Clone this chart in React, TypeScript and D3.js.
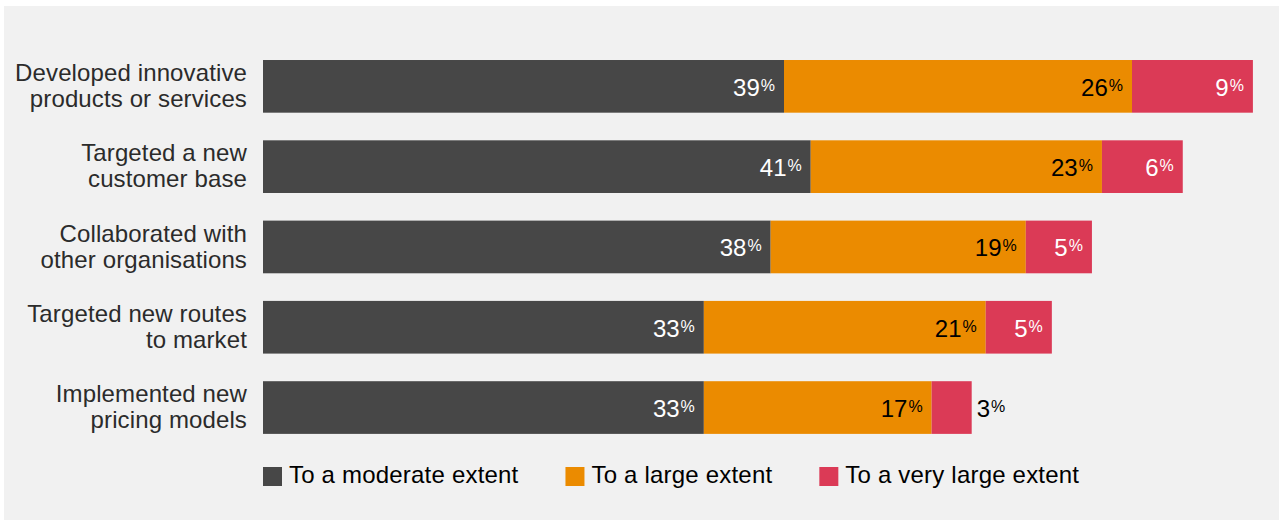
import React, { useEffect, useRef } from "react";
import * as d3 from "d3";

const categories: string[][] = [
  ["Developed innovative", "products or services"],
  ["Targeted a new", "customer base"],
  ["Collaborated with", "other organisations"],
  ["Targeted new routes", "to market"],
  ["Implemented new", "pricing models"],
];
const seriesNames = ["To a moderate extent", "To a large extent", "To a very large extent"];
const moderate = [39, 41, 38, 33, 33];
const large = [26.05, 21.8, 19.1, 21.1, 17.05];
const veryLarge = [9.05, 6.05, 4.95, 4.95, 3];
const moderateLabels = ["39", "41", "38", "33", "33"];
const largeLabels = ["26", "23", "19", "21", "17"];
const veryLargeLabels = ["9", "6", "5", "5", "3"];
const colors = ["#474747", "#eb8b00", "#db3a56"];
const labelColors = ["#ffffff", "#000000", "#ffffff"];

const W = 1279;
const H = 520;

export default function App() {
  const ref = useRef<SVGSVGElement | null>(null);
  useEffect(() => {
    const svg = d3.select(ref.current);
    svg.selectAll("*").remove();
    const font = "'Liberation Sans', Arial, Helvetica, sans-serif";

    svg.append("rect").attr("x", 0).attr("y", 0).attr("width", W).attr("height", H).attr("fill", "#ffffff");
    svg.append("rect").attr("x", 4).attr("y", 6).attr("width", W - 4).attr("height", H - 6).attr("fill", "#f1f1f1");

    const keys = categories.map((c, i) => String(i));
    const y = d3.scaleBand<string>().domain(keys).range([46.2, 447.7]).paddingInner(0.344).paddingOuter(0.172);
    const x = d3.scaleLinear().domain([0, 100]).range([263, 263 + 1335.9]);

    const series = [moderate, large, veryLarge];
    const labels = [moderateLabels, largeLabels, veryLargeLabels];

    const rows = categories.map((_, i) => ({ i, vals: series.map((s) => s[i]) }));

    rows.forEach((row) => {
      const yy = y(String(row.i)) as number;
      const bh = y.bandwidth();
      const cy = yy + bh / 2;
      let acc = 0;
      const g = svg.append("g");
      row.vals.forEach((v, k) => {
        const x0 = x(acc);
        const x1 = x(acc + v);
        acc += v;
        g.append("rect")
          .attr("x", x0)
          .attr("y", yy)
          .attr("width", x1 - x0)
          .attr("height", bh)
          .attr("fill", colors[k]);
        const inside = x1 - x0 > 50;
        const t = g
          .append("text")
          .attr("y", cy + 9.4)
          .attr("font-family", font)
          .attr("text-anchor", inside ? "end" : "start")
          .attr("x", inside ? x1 - 9 : x1 + 5)
          .attr("fill", inside ? labelColors[k] : "#000000");
        t.append("tspan").attr("font-size", 24).text(labels[k][row.i]);
        t.append("tspan").attr("font-size", 16).attr("dx", 1).attr("dy", -5).text("%");
      });
      const lbl = svg
        .append("text")
        .attr("x", 247)
        .attr("text-anchor", "end")
        .attr("font-family", font)
        .attr("font-size", 24)
        .attr("letter-spacing", 0.12)
        .attr("fill", "#2b2b2b");
      lbl.append("tspan").attr("x", 247).attr("y", cy - 5.3).text(categories[row.i][0]);
      lbl.append("tspan").attr("x", 247).attr("y", cy + 20.7).text(categories[row.i][1]);
    });

    // legend
    let lx = 263;
    seriesNames.forEach((name, k) => {
      svg.append("rect").attr("x", lx).attr("y", 467).attr("width", 19).attr("height", 19).attr("fill", colors[k]);
      const t = svg
        .append("text")
        .attr("x", lx + 26)
        .attr("y", 482.7)
        .attr("font-family", font)
        .attr("font-size", 24)
        .attr("letter-spacing", 0.2)
        .attr("fill", "#000000")
        .text(name);
      const w = (t.node() as SVGTextElement).getComputedTextLength();
      lx = lx + 26 + w + 47;
    });
  }, []);
  return (
    <svg
      ref={ref}
      width={W}
      height={H}
      style={{ position: "absolute", left: 0, top: 0, display: "block" }}
    />
  );
}
